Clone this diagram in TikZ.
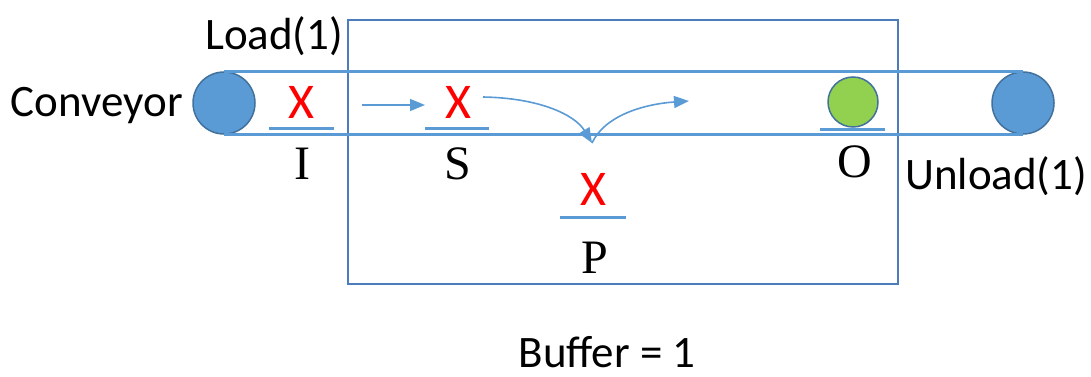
\documentclass[tikz,border=0pt]{standalone}
\usepackage{fontspec}
\setmainfont{Carlito}
\newfontfamily\serifface{Liberation Serif}
\usetikzlibrary{arrows.meta}
\definecolor{belt}{RGB}{91,155,213}
\definecolor{boxline}{RGB}{76,125,186}
\definecolor{rollfill}{RGB}{91,155,213}
\definecolor{rolledge}{RGB}{65,113,156}
\definecolor{partgreen}{RGB}{146,208,80}
\definecolor{markred}{RGB}{255,0,0}
\tikzset{
  roller/.style={circle, draw=rolledge, line width=1.5pt, fill=rollfill, minimum size=62pt, inner sep=0pt},
  beltline/.style={draw=belt, line width=3pt},
  slotline/.style={draw=belt, line width=3pt},
  xmark/.style={text=markred, font=\fontsize{50}{54}\selectfont, inner sep=0pt},
  slotlabel/.style={font=\serifface\fontsize{48}{52}\selectfont, inner sep=0pt},
  txt/.style={font=\fontsize{45}{50}\selectfont, inner sep=0pt},
  flow/.style={draw=belt, line width=1.6pt, -{Triangle[length=15pt,width=12pt]}},
}
\begin{document}
\begin{tikzpicture}[x=1pt,y=-1pt]
\useasboundingbox (0,0) rectangle (1091,377);
% buffer box
\draw[boxline, line width=2.5pt] (348,20) rectangle (898,284);
% rollers
\node[roller] (lr) at (224,103) {};
\node[roller] (rr) at (1023,103) {};
% belt
\draw[beltline] (lr.north) -- (rr.north);
\draw[beltline] (lr.south) -- (rr.south);
% I
\node[xmark] (xi) at (301,102) {X};
\coordinate (ia) at (269,128); \coordinate (ib) at (334,128);
\draw[slotline] (ia) -- (ib);
\node[slotlabel] (li) at (302,164) {I};
% S
\node[xmark] (xs) at (458,102) {X};
\coordinate (sa) at (425,128); \coordinate (sb) at (489,128);
\draw[slotline] (sa) -- (sb);
\node[slotlabel] (ls) at (458,164) {S};
% P
\node[xmark] (xp) at (593,189) {X};
\coordinate (pa) at (560,217); \coordinate (pb) at (626,217);
\draw[slotline] (pa) -- (pb);
\node[slotlabel] (lp) at (595,258) {P};
% O
\node[circle, draw=rolledge, line width=1.5pt, fill=partgreen, minimum size=50pt, inner sep=0pt] (go) at (853,102) {};
\coordinate (oa) at (820,129); \coordinate (ob) at (885,129);
\draw[slotline] (oa) -- (ob);
\node[slotlabel] (lo) at (855,162) {O};
% flow arrows
\coordinate (a1) at (362,105); \coordinate (a2) at (425,105);
\draw[flow] (a1) -- (a2);
\coordinate (c1) at (483,97); \coordinate (c2) at (592,143); \coordinate (c3) at (689,101);
\draw[flow] (c1) .. controls (540,98) and (575,115) .. (c2);
\draw[flow] (c2) .. controls (605,115) and (645,104) .. (c3);
% texts
\node[txt, anchor=west] (load) at (205,36) {Load(1)};
\node[txt, anchor=east] (conv) at (183,106) {Conveyor};
\node[txt, anchor=west] (unload) at (905,176) {Unload(1)};
\node[txt, anchor=base] (buf) at (607,367) {Buffer = 1};
\end{tikzpicture}
\end{document}
